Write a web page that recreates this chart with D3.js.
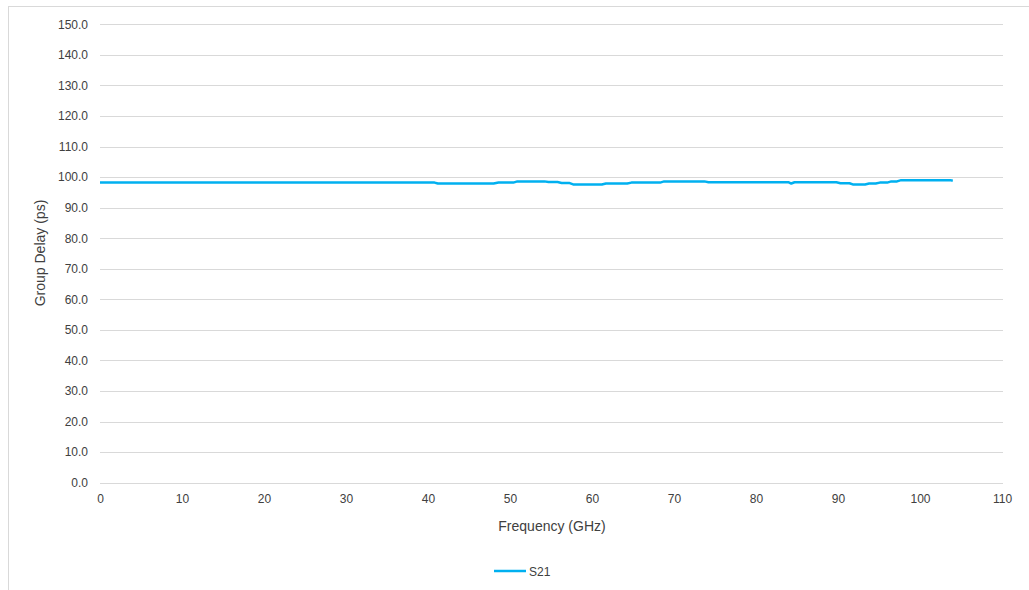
<!DOCTYPE html>
<html>
<head>
<meta charset="utf-8">
<script src="https://cdn.jsdelivr.net/npm/d3@7"></script>
<style>
html,body{margin:0;padding:0;background:#fff;}
svg{display:block;}
text{font-family:"Liberation Sans",Arial,sans-serif;fill:#404040;}
</style>
</head>
<body>
<svg id="chart" width="1029" height="590"></svg>
<script>
const freq = [0, 40.8, 41.2, 48.0, 48.6, 50.4, 50.9, 54.2, 54.7, 55.8, 56.3, 57.2, 57.7, 61.2, 61.7, 64.3, 64.8, 68.3, 68.8, 73.7, 74.2, 84.0, 84.3, 84.7, 89.8, 90.3, 91.4, 91.8, 93.3, 93.8, 94.6, 95.1, 96.0, 96.5, 97.2, 97.7, 103.7, 104.0];
const delay = [98.2, 98.2, 97.9, 97.9, 98.2, 98.2, 98.6, 98.6, 98.4, 98.4, 98.1, 98.1, 97.6, 97.6, 97.9, 97.9, 98.2, 98.2, 98.6, 98.6, 98.3, 98.3, 97.9, 98.3, 98.3, 98.0, 98.0, 97.6, 97.6, 97.9, 97.9, 98.2, 98.2, 98.6, 98.6, 99.0, 99.0, 98.8];
const xTicks = [0, 10, 20, 30, 40, 50, 60, 70, 80, 90, 100, 110];
const yTicks = [0, 10, 20, 30, 40, 50, 60, 70, 80, 90, 100, 110, 120, 130, 140, 150];
const seriesName = "S21";

const svg = d3.select("#chart");
const x = d3.scaleLinear().domain([0, 110]).range([100, 1002]);
const y = d3.scaleLinear().domain([0, 150]).range([482.7, 24.3]);

// chart border
svg.append("rect").attr("x", 8.5).attr("y", 6.5).attr("width", 1040).attr("height", 600)
  .attr("fill", "none").attr("stroke", "#d9d9d9").attr("stroke-width", 1);

// gridlines
svg.append("g").selectAll("line").data(yTicks).join("line")
  .attr("x1", x(0)).attr("x2", x(110) + 1)
  .attr("y1", d => Math.round(y(d)) + 0.5).attr("y2", d => Math.round(y(d)) + 0.5)
  .attr("stroke", "#d9d9d9").attr("stroke-width", 1);

// y axis labels
const yAxis = d3.axisLeft(y).tickValues(yTicks).tickFormat(d3.format(".1f")).tickSize(0).tickPadding(0);
const gy = svg.append("g").attr("transform", "translate(88,0)").call(yAxis);
gy.select(".domain").remove();
gy.selectAll("text").style("font-size", "12px").attr("fill", "#404040").style("font-family", null);

// x axis labels
const xAxis = d3.axisBottom(x).tickValues(xTicks).tickFormat(d3.format("d")).tickSize(0).tickPadding(12);
const gx = svg.append("g").attr("transform", `translate(0,${y(0)})`).call(xAxis);
gx.select(".domain").remove();
gx.selectAll("text").style("font-size", "12px").attr("fill", "#404040").style("font-family", null);

// titles
svg.append("text").attr("x", 552).attr("y", 531).attr("text-anchor", "middle")
  .style("font-size", "14px").text("Frequency (GHz)");
svg.append("text").attr("transform", "translate(45,253) rotate(-90)").attr("text-anchor", "middle")
  .style("font-size", "14px").text("Group Delay (ps)");

// series line
const data = freq.map((f, i) => ({f, v: delay[i]}));
svg.append("path").datum(data)
  .attr("fill", "none").attr("stroke", "#00b0f0").attr("stroke-width", 2.5)
  .attr("stroke-linejoin", "round")
  .attr("d", d3.line().x(d => x(d.f)).y(d => y(d.v)));

// legend
svg.append("line").attr("x1", 494).attr("x2", 526).attr("y1", 571).attr("y2", 571)
  .attr("stroke", "#00b0f0").attr("stroke-width", 2.5);
svg.append("text").attr("x", 529).attr("y", 575.5).style("font-size", "12px").attr("fill", "#595959").text(seriesName);
</script>
</body>
</html>
